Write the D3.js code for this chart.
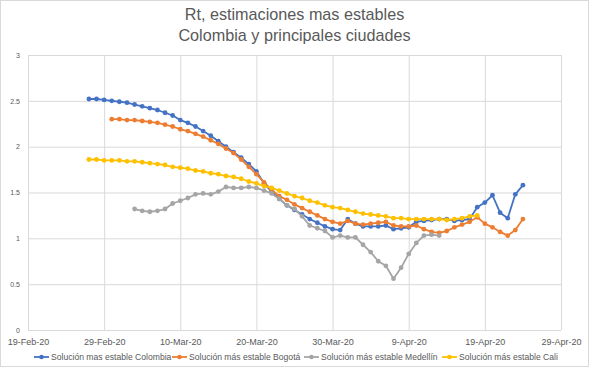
<!DOCTYPE html>
<html>
<head>
	<title>Rt Colombia</title>
	<meta charset=utf-8>
	<script src="https://d3js.org/d3.v7.min.js"></script>
	<style type="text/css">
		body{
			margin: 0;
			background: #fff;
		}
		svg text{
			font-family: "Liberation Sans", "DejaVu Sans", sans-serif;
			fill: #595959;
		}
	</style>
</head>
<body>
	<div id="chart"></div>

	<script type="text/javascript">
		// values, one per day from each start date
		const colombiaStart = '2020-02-27';
		const colombia = [2.52, 2.52, 2.51, 2.50, 2.49, 2.48, 2.46, 2.44, 2.42, 2.40,
			2.37, 2.34, 2.29, 2.26, 2.22, 2.17, 2.12, 2.06, 2.00, 1.94,
			1.88, 1.81, 1.73, 1.60, 1.51, 1.43, 1.36, 1.31, 1.26, 1.21,
			1.17, 1.13, 1.10, 1.09, 1.21, 1.16, 1.13, 1.13, 1.13, 1.14,
			1.10, 1.11, 1.12, 1.18, 1.19, 1.20, 1.21, 1.21, 1.19, 1.20,
			1.21, 1.34, 1.39, 1.47, 1.28, 1.22, 1.48, 1.58];

		const bogotaStart = '2020-03-01';
		const bogota = [2.30, 2.30, 2.29, 2.29, 2.28, 2.27, 2.26, 2.24, 2.22, 2.19,
			2.17, 2.14, 2.11, 2.07, 2.03, 1.98, 1.93, 1.86, 1.78, 1.70,
			1.61, 1.53, 1.46, 1.42, 1.37, 1.33, 1.29, 1.25, 1.21, 1.18,
			1.16, 1.19, 1.16, 1.15, 1.16, 1.17, 1.18, 1.14, 1.13, 1.13,
			1.14, 1.10, 1.07, 1.06, 1.08, 1.12, 1.15, 1.18, 1.23, 1.16,
			1.12, 1.07, 1.03, 1.09, 1.21];

		const medellinStart = '2020-03-04';
		const medellin = [1.32, 1.30, 1.29, 1.30, 1.32, 1.38, 1.41, 1.44, 1.48, 1.49,
			1.48, 1.51, 1.56, 1.55, 1.55, 1.56, 1.55, 1.52, 1.49, 1.43,
			1.36, 1.32, 1.24, 1.14, 1.11, 1.08, 1.01, 1.03, 1.01, 1.01,
			0.93, 0.85, 0.75, 0.70, 0.56, 0.68, 0.83, 0.95, 1.03, 1.04,
			1.03];

		const caliStart = '2020-02-27';
		const cali = [1.86, 1.86, 1.85, 1.85, 1.85, 1.84, 1.84, 1.83, 1.82, 1.81,
			1.80, 1.78, 1.77, 1.76, 1.74, 1.73, 1.71, 1.70, 1.68, 1.67,
			1.65, 1.62, 1.60, 1.57, 1.55, 1.52, 1.49, 1.46, 1.44, 1.41,
			1.39, 1.36, 1.34, 1.33, 1.31, 1.29, 1.27, 1.26, 1.25, 1.24,
			1.22, 1.22, 1.21, 1.21, 1.21, 1.21, 1.21, 1.20, 1.21, 1.22,
			1.24, 1.25];

		const seriesNames = ['Solución mas estable Colombia', 'Solución más estable Bogotá',
			'Solución más estable Medellín', 'Solución más estable Cali'];
		const seriesColors = ['#4472C4', '#ED7D31', '#A5A5A5', '#FFC000'];
		const xTicks = ['2020-02-19', '2020-02-29', '2020-03-10', '2020-03-20',
			'2020-03-30', '2020-04-09', '2020-04-19', '2020-04-29'];
		const yTicks = [0, 0.5, 1, 1.5, 2, 2.5, 3];
		const titleLines = ['Rt, estimaciones mas estables', 'Colombia y principales ciudades'];

		const parse = d3.utcParse('%Y-%m-%d');
		const toPoints = (start, vals) => vals.map((v, i) => ({date: d3.utcDay.offset(parse(start), i), val: v}));
		const series = [
			toPoints(colombiaStart, colombia),
			toPoints(bogotaStart, bogota),
			toPoints(medellinStart, medellin),
			toPoints(caliStart, cali)
		];

		const width = 589, height = 367;
		const m = {top: 55, right: 28, bottom: 37, left: 28};

		const x = d3.scaleUtc()
			.domain([parse(xTicks[0]), parse(xTicks[xTicks.length - 1])])
			.range([m.left, width - m.right]);
		const y = d3.scaleLinear()
			.domain([0, 3])
			.range([height - m.bottom, m.top]);

		const svg = d3.select('#chart')
			.append('svg')
			.attr('width', width)
			.attr('height', height);

		svg.append('rect')
			.attr('x', 0.5).attr('y', 0.5)
			.attr('width', width - 1).attr('height', height - 1)
			.attr('fill', '#fff')
			.attr('stroke', '#d9d9d9');

		// title
		svg.selectAll('.title')
			.data(titleLines)
			.enter()
			.append('text')
			.attr('class', 'title')
			.attr('x', width / 2)
			.attr('y', (d, i) => 20 + i * 21)
			.attr('text-anchor', 'middle')
			.style('font-size', '16.2px')
			.text(d => d);

		// grid + axes
		const xAxis = d3.axisBottom(x)
			.tickValues(xTicks.map(parse))
			.tickFormat(d3.utcFormat('%-d-%b-%y'))
			.tickSize(-(height - m.top - m.bottom))
			.tickPadding(9);
		const yAxis = d3.axisLeft(y)
			.tickValues(yTicks)
			.tickFormat(d3.format('~g'))
			.tickSize(-(width - m.left - m.right))
			.tickPadding(8);

		svg.append('g')
			.attr('transform', `translate(0, ${height - m.bottom})`)
			.call(xAxis)
			.call(g => g.select('.domain').remove())
			.call(g => g.selectAll('line').attr('stroke', '#d9d9d9'))
			.call(g => g.selectAll('text').style('font-size', '9px'));

		svg.append('g')
			.attr('transform', `translate(${m.left}, 0)`)
			.call(yAxis)
			.call(g => g.select('.domain').remove())
			.call(g => g.selectAll('line').attr('stroke', '#d9d9d9'))
			.call(g => g.selectAll('text').style('font-size', '7px'));

		// lines
		const line = d3.line()
			.x(d => x(d.date))
			.y(d => y(d.val));

		const groups = svg.selectAll('.series')
			.data(series)
			.enter()
			.append('g')
			.attr('class', 'series');

		groups.append('path')
			.attr('d', line)
			.attr('fill', 'none')
			.attr('stroke', (d, i) => seriesColors[i])
			.attr('stroke-width', 1.8)
			.attr('stroke-linejoin', 'round');

		groups.each(function(d, i){
			d3.select(this)
				.selectAll('circle')
				.data(d)
				.enter()
				.append('circle')
				.attr('cx', p => x(p.date))
				.attr('cy', p => y(p.val))
				.attr('r', 2.4)
				.attr('fill', seriesColors[i]);
		});

		// legend
		const legendX = [34, 172, 304, 442];
		const legend = svg.selectAll('.legend')
			.data(seriesNames)
			.enter()
			.append('g')
			.attr('class', 'legend')
			.attr('transform', (d, i) => `translate(${legendX[i]}, 357)`);

		legend.append('line')
			.attr('x1', 0).attr('x2', 15)
			.attr('stroke', (d, i) => seriesColors[i])
			.attr('stroke-width', 1.8);
		legend.append('circle')
			.attr('cx', 7.5)
			.attr('r', 2.3)
			.attr('fill', (d, i) => seriesColors[i]);
		legend.append('text')
			.attr('x', 17)
			.attr('dy', '0.35em')
			.style('font-size', '8.6px')
			.text(d => d);
	</script>
</body>
</html>
